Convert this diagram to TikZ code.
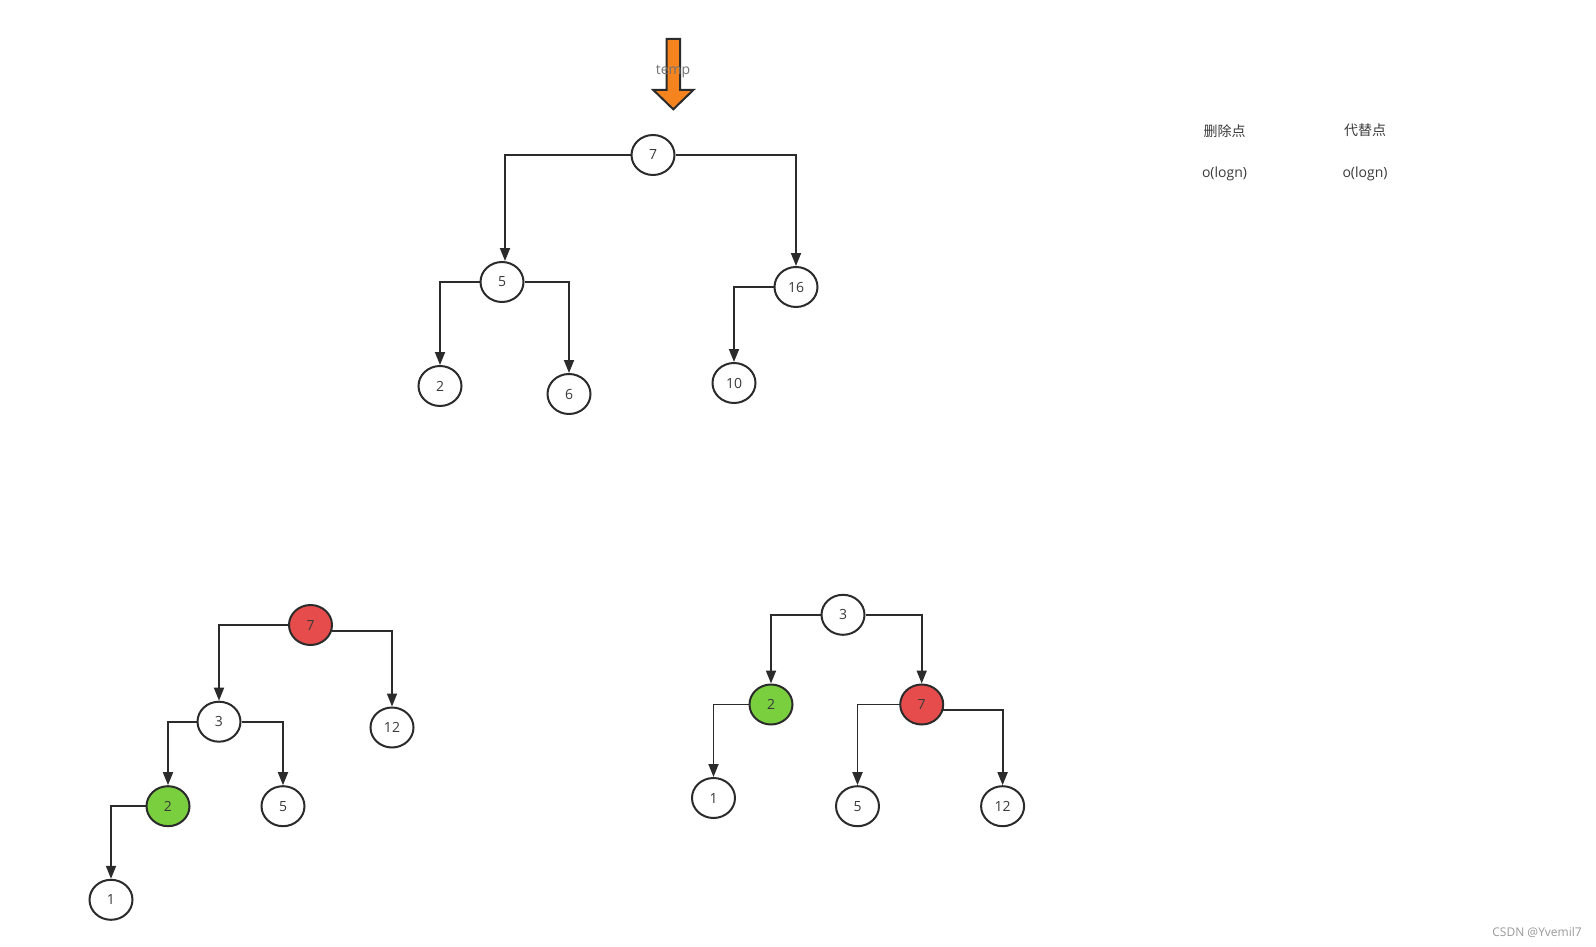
\documentclass[tikz,border=0pt]{standalone}
\usepackage{fontspec}
\setmainfont{Open Sans}
\newfontfamily\cjk{Noto Sans CJK SC}
\usetikzlibrary{shapes.geometric,arrows.meta}
\definecolor{ink}{HTML}{2B2B2B}
\definecolor{txt}{HTML}{3A3A3A}
\definecolor{orng}{HTML}{F5841F}
\definecolor{gfill}{HTML}{7ACF3F}
\definecolor{rfill}{HTML}{E64C4C}
\tikzset{
  tn/.style={ellipse, draw=ink, line width=2pt, fill=white, minimum width=43pt, minimum height=40pt, inner sep=0pt, text=txt, font=\fontsize{14}{14}\selectfont},
  gn/.style={tn, fill=gfill},
  rn/.style={tn, fill=rfill},
  edge/.style={draw=ink, line width=1.8pt, -{Triangle[length=13pt,width=10pt]}},
  lbl/.style={text=txt, font=\fontsize{14}{16}\selectfont, inner sep=0pt},
}
\begin{document}
\begin{tikzpicture}[x=1pt,y=-1pt]
\useasboundingbox (0,0) rectangle (1596,947);
% block arrow
\draw[ink, line width=2pt, fill=orng, line join=miter]
  (666.7,39) -- (680,39) -- (680,90) -- (693.3,90) -- (673.3,109.3) -- (653.3,90) -- (666.7,90) -- cycle;
\node[lbl, text=gray!90!black] (temp) at (673,72) {temp};
% top tree
\node[tn] (a7) at (653,155) {7};
\node[tn] (a5) at (502,282) {5};
\node[tn] (a16) at (796,287) {16};
\node[tn] (a2) at (440,386) {2};
\node[tn] (a6) at (569,394) {6};
\node[tn] (a10) at (734,383) {10};
\draw[edge] (a7.west) -| ([xshift=3pt]a5.north);
\draw[edge] (a7.east) -| (a16.north);
\draw[edge] (a5.west) -| (a2.north);
\draw[edge] (a5.east) -| (a6.north);
\draw[edge] (a16.west) -| (a10.north);
% labels
\node[lbl] (h1) at (1224.5,131) {\cjk 删除点};
\node[lbl] (h2) at (1365,130) {\cjk 代替点};
\node[lbl] (c1) at (1224.5,174) {o(logn)};
\node[lbl] (c2) at (1365,174) {o(logn)};
% bottom-left tree
\node[rn] (b7) at (310.5,625) {7};
\node[tn] (b12) at (392,727.5) {12};
\node[tn] (b3) at (219,721.7) {3};
\node[gn] (b2) at (168,806.2) {2};
\node[tn] (b5) at (283,806.2) {5};
\node[tn] (b1) at (111,899.8) {1};
\draw[edge] (b7.west) -| (b3.north);
\draw[edge] (b7.-15) -| (b12.north);
\draw[edge] (b3.west) -| (b2.north);
\draw[edge] (b3.east) -| (b5.north);
\draw[edge] (b2.west) -| (b1.north);
% bottom-right tree
\node[tn] (c3) at (843,614.8) {3};
\node[gn] (c2n) at (771,704.5) {2};
\node[rn] (c7) at (921.7,704.5) {7};
\node[tn] (c1n) at (713.5,798) {1};
\node[tn] (c5) at (857.5,806.2) {5};
\node[tn] (c12) at (1002.6,806.2) {12};
\draw[edge] (c3.west) -| (c2n.north);
\draw[edge] (c3.east) -| (c7.north);
\draw[edge] (c2n.west) -| (c1n.north);
\draw[edge] (c7.west) -| (c5.north);
\draw[edge] (c7.-15) -| (c12.north);
% watermark
\node[text=gray!80, font=\fontsize{12}{13}\selectfont, inner sep=0pt, anchor=east] (wm) at (1582,932) {CSDN @Yvemil7};
\end{tikzpicture}
\end{document}
